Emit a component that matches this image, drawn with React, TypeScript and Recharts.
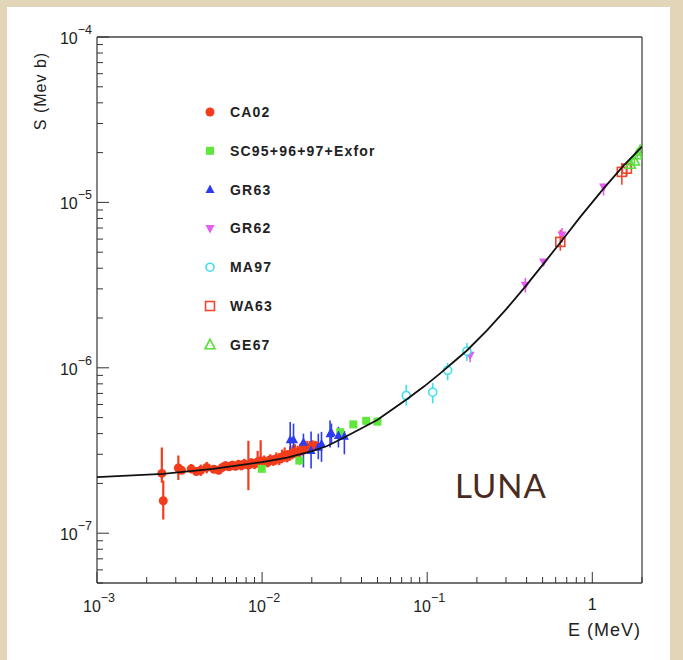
import React from 'react';
import { ScatterChart, Scatter, XAxis, YAxis, ErrorBar, ReferenceLine } from 'recharts';

const WIDTH = 683;
const HEIGHT = 660;
const FONT = '"Liberation Sans", Arial, sans-serif';

// fitted S-factor curve
const fitE = [0.001, 0.00251, 0.00505, 0.01, 0.01417, 0.02009, 0.02477, 0.03012, 0.03981, 0.04977, 0.06136, 0.07565, 0.0959, 0.1199, 0.1438, 0.1748, 0.231, 0.3012, 0.3926, 0.5047, 0.6551, 0.846, 1.166, 1.541, 2.0];
const fitS = [2.185e-7, 2.284e-7, 2.449e-7, 2.693e-7, 2.867e-7, 3.14e-7, 3.367e-7, 3.713e-7, 4.297e-7, 4.838e-7, 5.604e-7, 6.486e-7, 7.725e-7, 9.26e-7, 1.08e-6, 1.277e-6, 1.688e-6, 2.262e-6, 3.097e-6, 4.238e-6, 5.885e-6, 8.17e-6, 1.207e-5, 1.664e-5, 2.17e-5];

// CA02 (LUNA)
const ca02E = [0.00247, 0.00252, 0.00311, 0.00325, 0.00372, 0.004, 0.00425, 0.00462, 0.0051, 0.00545, 0.00575, 0.006, 0.0063, 0.0066, 0.0069, 0.0072, 0.0075, 0.0078, 0.00826, 0.0086, 0.009, 0.0094, 0.0098, 0.0103, 0.0108, 0.0112, 0.0117, 0.0122, 0.0127, 0.0132, 0.0137, 0.0142, 0.0148, 0.0153, 0.0158, 0.0164, 0.017, 0.0176, 0.0182, 0.0188, 0.0195, 0.0202, 0.021];
const ca02S = [2.3e-7, 1.57e-7, 2.48e-7, 2.4e-7, 2.45e-7, 2.36e-7, 2.4e-7, 2.5e-7, 2.44e-7, 2.4e-7, 2.5e-7, 2.56e-7, 2.52e-7, 2.58e-7, 2.54e-7, 2.6e-7, 2.56e-7, 2.62e-7, 2.58e-7, 2.66e-7, 2.62e-7, 2.7e-7, 2.74e-7, 2.72e-7, 2.68e-7, 2.78e-7, 2.74e-7, 2.82e-7, 2.8e-7, 2.88e-7, 2.95e-7, 2.9e-7, 3.0e-7, 3.05e-7, 3.1e-7, 3.05e-7, 3.15e-7, 3.2e-7, 3.25e-7, 3.3e-7, 3.28e-7, 3.35e-7, 3.38e-7];
const ca02Lo = [2.02e-7, 1.21e-7, 2.1e-7, 2.28e-7, 2.3e-7, 2.25e-7, 2.22e-7, 2.3e-7, 2.3e-7, 2.28e-7, 2.35e-7, 2.42e-7, 2.38e-7, 2.44e-7, 2.4e-7, 2.45e-7, 2.4e-7, 2.46e-7, 1.82e-7, 2.5e-7, 2.44e-7, 2.52e-7, 2.5e-7, 2.55e-7, 2.5e-7, 2.58e-7, 2.55e-7, 2.6e-7, 2.58e-7, 2.65e-7, 2.7e-7, 2.68e-7, 2.75e-7, 2.8e-7, 2.85e-7, 2.8e-7, 2.9e-7, 2.95e-7, 3.0e-7, 3.05e-7, 3.02e-7, 3.1e-7, 3.15e-7];
const ca02Hi = [3.3e-7, 2.08e-7, 2.95e-7, 2.55e-7, 2.62e-7, 2.48e-7, 2.6e-7, 2.7e-7, 2.58e-7, 2.55e-7, 2.66e-7, 2.72e-7, 2.68e-7, 2.74e-7, 2.7e-7, 2.78e-7, 2.74e-7, 2.82e-7, 3.62e-7, 2.84e-7, 2.82e-7, 3.15e-7, 3.65e-7, 2.95e-7, 2.88e-7, 3.0e-7, 2.96e-7, 3.08e-7, 3.05e-7, 3.2e-7, 3.3e-7, 3.18e-7, 3.35e-7, 3.4e-7, 3.45e-7, 3.38e-7, 3.48e-7, 3.55e-7, 3.6e-7, 3.62e-7, 3.6e-7, 3.65e-7, 3.62e-7];

// SC95+96+97+Exfor
const scE = [0.00995, 0.0168, 0.0297, 0.0357, 0.0427, 0.05];
const scS = [2.45e-7, 2.75e-7, 4.08e-7, 4.55e-7, 4.78e-7, 4.73e-7];
const scLo = [2.35e-7, 2.58e-7, 3.9e-7, 4.35e-7, 4.55e-7, 4.5e-7];
const scHi = [2.58e-7, 2.95e-7, 4.3e-7, 4.78e-7, 5.05e-7, 5.0e-7];

// GR63
const gr63E = [0.0148, 0.0155, 0.0178, 0.0198, 0.0219, 0.0229, 0.0258, 0.0263, 0.029, 0.0315];
const gr63S = [3.67e-7, 3.67e-7, 3.55e-7, 3.16e-7, 3.31e-7, 3.47e-7, 4.0e-7, 4.05e-7, 3.9e-7, 3.85e-7];
const gr63Lo = [3.16e-7, 3.0e-7, 2.5e-7, 2.46e-7, 2.8e-7, 2.7e-7, 3.3e-7, 3.5e-7, 3.3e-7, 3.0e-7];
const gr63Hi = [4.7e-7, 4.6e-7, 4.0e-7, 4.12e-7, 4.0e-7, 4.1e-7, 4.8e-7, 4.6e-7, 4.4e-7, 4.15e-7];

// GR62
const gr62E = [0.182, 0.393, 0.507, 0.655, 1.17];
const gr62S = [1.19e-6, 3.16e-6, 4.36e-6, 6.35e-6, 1.24e-5];
const gr62Lo = [1.08e-6, 2.85e-6, 4.2e-6, 5.7e-6, 1.1e-5];
const gr62Hi = [1.32e-6, 3.5e-6, 4.55e-6, 7.0e-6, 1.3e-5];

// MA97
const ma97E = [0.0747, 0.108, 0.133, 0.174];
const ma97S = [6.8e-7, 7.12e-7, 9.66e-7, 1.26e-6];
const ma97Lo = [5.9e-7, 6.1e-7, 8.4e-7, 1.1e-6];
const ma97Hi = [7.9e-7, 8.1e-7, 1.07e-6, 1.41e-6];

// WA63
const wa63E = [0.64, 1.51, 1.62];
const wa63S = [5.77e-6, 1.53e-5, 1.6e-5];
const wa63Lo = [5.1e-6, 1.28e-5, 1.45e-5];
const wa63Hi = [6.83e-6, 1.73e-5, 1.75e-5];

// GE67
const ge67E = [1.7, 1.8, 1.87, 1.95];
const ge67S = [1.7e-5, 1.78e-5, 1.94e-5, 2.05e-5];
const ge67Lo = [1.62e-5, 1.7e-5, 1.86e-5, 1.97e-5];
const ge67Hi = [1.8e-5, 1.88e-5, 2.02e-5, 2.13e-5];

const xTicks = [0.001, 0.002, 0.003, 0.004, 0.005, 0.006, 0.007, 0.008, 0.009, 0.01, 0.02, 0.03, 0.04, 0.05, 0.06, 0.07, 0.08, 0.09, 0.1, 0.2, 0.3, 0.4, 0.5, 0.6, 0.7, 0.8, 0.9, 1, 2];
const yTicks = [5e-8, 6e-8, 7e-8, 8e-8, 9e-8, 1e-7, 2e-7, 3e-7, 4e-7, 5e-7, 6e-7, 7e-7, 8e-7, 9e-7, 1e-6, 2e-6, 3e-6, 4e-6, 5e-6, 6e-6, 7e-6, 8e-6, 9e-6, 1e-5, 2e-5, 3e-5, 4e-5, 5e-5, 6e-5, 7e-5, 8e-5, 9e-5, 1e-4];

const rows = (E: number[], S: number[], lo: number[], hi: number[]) =>
  E.map((e, i) => ({ E: e, S: S[i], err: [S[i] - lo[i], hi[i] - S[i]] }));

const fitData = fitE.map((e, i) => ({ E: e, S: fitS[i] }));

type Kind = 'dot' | 'square' | 'up' | 'down' | 'ring' | 'box' | 'upOpen';

const SERIES: { name: string; kind: Kind; color: string; data: any[]; barWidth: number }[] = [
  { name: 'CA02', kind: 'dot', color: '#f23c1c', data: rows(ca02E, ca02S, ca02Lo, ca02Hi), barWidth: 2.2 },
  { name: 'SC95+96+97+Exfor', kind: 'square', color: '#5ee83c', data: rows(scE, scS, scLo, scHi), barWidth: 1.6 },
  { name: 'GR63', kind: 'up', color: '#2d3cf0', data: rows(gr63E, gr63S, gr63Lo, gr63Hi), barWidth: 1.6 },
  { name: 'GR62', kind: 'down', color: '#e45cf0', data: rows(gr62E, gr62S, gr62Lo, gr62Hi), barWidth: 1.6 },
  { name: 'MA97', kind: 'ring', color: '#3ae0f0', data: rows(ma97E, ma97S, ma97Lo, ma97Hi), barWidth: 1.6 },
  { name: 'WA63', kind: 'box', color: '#f0462e', data: rows(wa63E, wa63S, wa63Lo, wa63Hi), barWidth: 1.6 },
  { name: 'GE67', kind: 'upOpen', color: '#58e03a', data: rows(ge67E, ge67S, ge67Lo, ge67Hi), barWidth: 1.6 },
];

function Marker({ kind, color, cx, cy }: { kind: Kind; color: string; cx: number; cy: number }) {
  switch (kind) {
    case 'dot':
      return <circle cx={cx} cy={cy} r={4.5} fill={color} />;
    case 'square':
      return <rect x={cx - 4} y={cy - 4} width={8} height={8} fill={color} />;
    case 'up':
      return <path d={`M${cx},${cy - 5} L${cx + 4.5},${cy + 3.5} L${cx - 4.5},${cy + 3.5} Z`} fill={color} />;
    case 'down':
      return <path d={`M${cx},${cy + 5} L${cx + 4.5},${cy - 3.5} L${cx - 4.5},${cy - 3.5} Z`} fill={color} />;
    case 'ring':
      return <circle cx={cx} cy={cy} r={4} fill="#fff" stroke={color} strokeWidth={1.6} />;
    case 'box':
      return <rect x={cx - 4.5} y={cy - 4.5} width={9} height={9} fill="none" stroke={color} strokeWidth={1.6} />;
    case 'upOpen':
      return <path d={`M${cx},${cy - 5.5} L${cx + 5},${cy + 4} L${cx - 5},${cy + 4} Z`} fill="none" stroke={color} strokeWidth={1.6} />;
  }
  return null;
}

const isDecade = (v: number) => Math.abs(Math.log10(v) - Math.round(Math.log10(v))) < 1e-6;

function XTick(props: any) {
  const { x, y, payload } = props;
  const v = payload.value;
  const major = isDecade(v);
  const exp = Math.round(Math.log10(v));
  return (
    <g>
      <line x1={x} x2={x} y1={y} y2={y - (major ? 11 : 6)} stroke="#333" strokeWidth={1} />
      {major && exp === 0 && (
        <text x={x} y={y + 27} textAnchor="middle" fontSize={16} fill="#222" fontFamily={FONT}>1</text>
      )}
      {major && exp !== 0 && (
        <text x={x - 14} y={y + 29} fontSize={16} fill="#222" fontFamily={FONT}>
          10<tspan dy={-10} fontSize={12.5}>{'\u2212' + -exp}</tspan>
        </text>
      )}
    </g>
  );
}

function YTick(props: any) {
  const { x, y, payload } = props;
  const v = payload.value;
  const major = isDecade(v);
  const exp = Math.round(Math.log10(v));
  return (
    <g>
      <line x1={x} x2={x + (major ? 12 : 6)} y1={y} y2={y} stroke="#333" strokeWidth={1} />
      {major && (
        <text x={x - 5} y={y + 7} textAnchor="end" fontSize={16} fill="#222" fontFamily={FONT}>
          10<tspan dy={-10} fontSize={12.5}>{'\u2212' + -exp}</tspan>
        </text>
      )}
    </g>
  );
}

const NoShape = () => <g />;

export default function App() {
  return (
    <div style={{ position: 'fixed', left: 0, top: 0, width: WIDTH, height: HEIGHT, background: '#e3d5b8', overflow: 'hidden' }}>
      <div style={{ position: 'absolute', left: 7, top: 7, width: 663, height: 660, background: '#ffffff' }} />
      <div style={{ position: 'absolute', left: 0, top: 0 }}>
        <ScatterChart width={WIDTH} height={HEIGHT} margin={{ top: 37, right: 41, bottom: 37, left: 37 }}>
          <XAxis
            dataKey="E"
            type="number"
            scale="log"
            domain={[0.001, 2]}
            allowDataOverflow
            ticks={xTicks}
            interval={0}
            tickSize={0}
            tickMargin={0}
            tickLine={false}
            tick={<XTick />}
            height={40}
            axisLine={{ stroke: '#444', strokeWidth: 1.3 }}
          />
          <YAxis
            dataKey="S"
            type="number"
            scale="log"
            domain={[5e-8, 1e-4]}
            allowDataOverflow
            ticks={yTicks}
            interval={0}
            tickSize={0}
            tickMargin={0}
            tickLine={false}
            tick={<YTick />}
            width={60}
            axisLine={{ stroke: '#444', strokeWidth: 1.3 }}
          />
          <ReferenceLine y={1e-4} stroke="#444" strokeWidth={1.3} />
          <ReferenceLine x={2} stroke="#444" strokeWidth={1.3} />
          {SERIES.map((s) => (
            <Scatter
              key={s.name}
              name={s.name}
              data={s.data}
              isAnimationActive={false}
              shape={(p: any) => <Marker kind={s.kind} color={s.color} cx={p.cx} cy={p.cy} />}
            >
              <ErrorBar dataKey="err" direction="y" width={0} stroke={s.color} strokeWidth={s.barWidth} isAnimationActive={false} />
            </Scatter>
          ))}
          <Scatter
            name="fit"
            data={fitData}
            isAnimationActive={false}
            line={{ stroke: '#111', strokeWidth: 1.8 }}
            lineType="joint"
            shape={NoShape}
          />
        </ScatterChart>
      </div>
      <svg width={WIDTH} height={HEIGHT} style={{ position: 'absolute', left: 0, top: 0, pointerEvents: 'none' }}>
        <text x={46} y={91} transform="rotate(-90 46 91)" textAnchor="middle" fontSize={16} letterSpacing={1} fill="#222" fontFamily={FONT}>
          S (Mev b)
        </text>
        <text x={641} y={636} textAnchor="end" fontSize={18} letterSpacing={1} fill="#222" fontFamily={FONT}>E (MeV)</text>
        <text x={455} y={498} fontSize={33} fill="#4a2a20" fontFamily="Lato, sans-serif" letterSpacing={1}>LUNA</text>
        {SERIES.map((s, i) => (
          <g key={s.name}>
            <Marker kind={s.kind} color={s.color} cx={210} cy={112 + i * 38.8} />
            <text x={230} y={117} dy={i * 38.8} fontSize={14} fontWeight="bold" letterSpacing={1.2} fill="#222" fontFamily={FONT}>{s.name}</text>
          </g>
        ))}
      </svg>
    </div>
  );
}
